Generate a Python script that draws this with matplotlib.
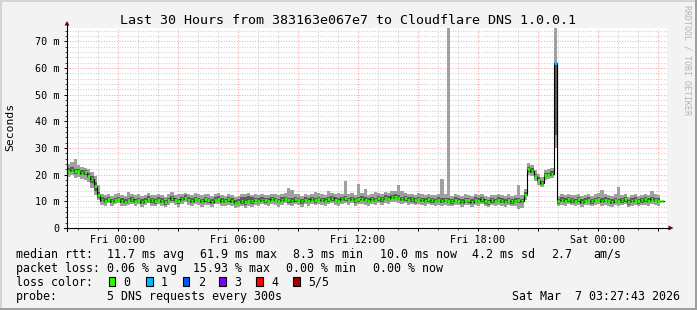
import numpy as np
import matplotlib
matplotlib.use("Agg")
import matplotlib.pyplot as plt
from matplotlib.lines import Line2D
from matplotlib.patches import Polygon, Rectangle

# ---------------- data ----------------
title = "Last 30 Hours from 383163e067e7 to Cloudflare DNS 1.0.0.1"
ylabel = "Seconds"
x_label_hours = [0, 6, 12, 18, 24]
x_tick_labels = ["Fri 00:00", "Fri 06:00", "Fri 12:00", "Fri 18:00", "Sat 00:00"]
y_ticks = [0, 10, 20, 30, 40, 50, 60, 70]
y_tick_labels = ["0", "10 m", "20 m", "30 m", "40 m", "50 m", "60 m", "70 m"]
start_hour = -2.5381      # Thu 21:27:43 relative to Fri 00:00
span_hours = 30.0
step_hours = 10.0 / 60.0  # one sample every 10 minutes
nan = float("nan")

median = [
    21.5, 21.8, 21.2, 21.4, 20.6, 20.9, 19.6, 18.2, 15.8, 12.2,
    10.6, 10.3, 10.9, 10.1, 10.5, 10.8, 10.2, 9.8, 10.4, 10.7,
    10.1, 10.5, 9.9, 10.2, 11.0, 10.4, 10.0, 10.6, 10.3, 9.7,
    10.5, 11.2, 10.4, 10.0, 10.8, 11.3, 10.6, 10.2, 10.9, 10.5,
    10.1, 10.7, 10.4, 9.9, 10.6, 11.0, 10.3, 10.1, 10.7, 10.2,
    9.4, 9.8, 10.1, 9.6, 10.3, 10.0, 10.5, 10.2, 10.6, 10.4,
    10.3, 10.8, 10.5, 10.1, 10.6, 10.9, 10.4, 10.2, 10.7, 10.5,
    10.0, 10.6, 10.3, 10.8, 10.4, 10.9, 10.5, 10.2, 10.7, 11.1,
    10.6, 10.3, 10.8, 11.2, 10.5, 10.9, 10.4, 10.7, 11.0, 10.6,
    10.3, 10.8, 10.5, 11.1, 10.7, 11.4, 11.0, 11.6, 11.8, 11.3,
    10.9, 11.2, 10.6, 10.8, 10.4, 10.9, 10.5, 10.2, 10.7, 10.4,
    10.1, 10.6, 10.3, 10.5, 10.2, 10.0, 10.6, 10.3, 9.8, 10.5,
    10.4, 9.9, 10.6, 10.2, 10.8, 10.0, 9.7, 10.4, 10.1, 10.6,
    10.3, 9.8, 10.5, 10.0, 10.2, 10.4, 10.1, 12.5, 22.0, 21.5,
    19.5, 18.0, 16.8, 19.8, 20.0, 20.4, 62.0, 10.0, 10.6, 10.2,
    10.8, 10.4, 10.1, 10.7, 9.8, 10.3, 10.6, 10.0, 10.5, 10.9,
    10.2, 10.6, 10.3, 9.9, 10.5, 10.1, 10.4, 10.8, 9.7, 10.2,
    10.6, 10.0, 10.4, 10.7, 10.3, 10.9, 10.5, 10.2, 10.0, nan,
]
smoke_outer_lo = [
    19.0, 19.8, 18.6, 19.2, 18.4, 18.0, 17.2, 15.0, 12.4, 10.6,
    8.8, 8.4, 9.3, 8.2, 8.9, 9.4, 8.3, 8.1, 8.6, 9.1,
    8.2, 9.0, 7.9, 8.5, 9.2, 8.4, 8.1, 8.9, 8.3, 7.8,
    8.7, 9.3, 8.5, 7.9, 9.0, 9.6, 8.7, 8.2, 9.1, 8.6,
    8.0, 8.8, 8.6, 7.7, 8.9, 9.1, 8.2, 8.3, 8.7, 8.1,
    7.5, 7.9, 8.2, 7.6, 8.4, 8.0, 8.8, 8.3, 8.9, 8.5,
    8.4, 9.1, 8.6, 8.0, 8.8, 9.2, 8.5, 8.1, 9.0, 8.7,
    7.9, 8.9, 8.3, 9.1, 8.5, 9.0, 8.8, 8.2, 8.9, 9.3,
    8.7, 8.4, 9.0, 9.3, 8.6, 9.2, 8.4, 8.9, 9.1, 8.8,
    8.3, 9.0, 8.6, 9.2, 8.8, 9.5, 9.1, 9.7, 9.9, 9.4,
    9.0, 9.3, 8.7, 9.0, 8.5, 9.1, 8.6, 8.3, 8.9, 8.5,
    8.2, 8.8, 8.4, 8.7, 8.3, 8.1, 8.7, 8.5, 7.9, 8.6,
    8.5, 8.0, 8.7, 8.4, 9.0, 8.1, 7.8, 8.6, 8.2, 8.8,
    8.4, 7.9, 8.7, 8.2, 8.3, 7.2, 7.4, 10.6, 19.9, 19.4,
    17.7, 16.3, 15.3, 18.1, 18.2, 18.7, 30.0, 8.3, 8.7, 8.4,
    8.9, 8.6, 8.2, 8.8, 7.9, 8.5, 8.7, 8.1, 8.6, 9.0,
    8.3, 8.8, 8.4, 8.0, 8.7, 8.2, 8.5, 9.0, 7.8, 8.4,
    8.7, 8.1, 8.6, 8.8, 8.4, 9.0, 8.6, 8.3, 8.2, nan,
]
smoke_inner_lo = [
    20.6, 21.0, 20.3, 20.5, 19.7, 19.9, 18.6, 16.9, 14.0, 11.3,
    9.8, 9.5, 10.1, 9.2, 9.7, 10.0, 9.4, 8.9, 9.6, 9.9,
    9.2, 9.8, 9.0, 9.3, 10.2, 9.5, 9.1, 9.8, 9.4, 8.8,
    9.7, 10.3, 9.6, 9.1, 10.0, 10.5, 9.7, 9.3, 10.1, 9.6,
    9.2, 9.9, 9.5, 8.9, 9.8, 10.1, 9.4, 9.2, 9.8, 9.3,
    8.6, 8.9, 9.0, 8.7, 9.2, 9.0, 9.6, 9.3, 9.8, 9.5,
    9.4, 10.0, 9.6, 9.2, 9.8, 10.1, 9.5, 9.3, 9.9, 9.6,
    9.1, 9.8, 9.4, 10.0, 9.5, 10.1, 9.7, 9.3, 9.9, 10.2,
    9.7, 9.4, 10.0, 10.3, 9.6, 10.1, 9.5, 9.8, 10.1, 9.7,
    9.4, 10.0, 9.6, 10.2, 9.8, 10.5, 10.1, 10.7, 10.9, 10.4,
    10.0, 10.3, 9.7, 9.9, 9.5, 10.0, 9.6, 9.3, 9.8, 9.5,
    9.2, 9.8, 9.4, 9.6, 9.3, 9.1, 9.7, 9.4, 8.9, 9.6,
    9.5, 9.0, 9.7, 9.3, 9.9, 9.1, 8.8, 9.5, 9.2, 9.7,
    9.4, 8.9, 9.6, 9.1, 9.3, 9.3, 9.2, 11.6, 21.0, 20.5,
    18.7, 17.2, 16.0, 19.0, 19.2, 19.5, 35.0, 9.1, 9.7, 9.3,
    9.9, 9.5, 9.2, 9.8, 8.9, 9.4, 9.7, 9.1, 9.6, 10.0,
    9.3, 9.7, 9.4, 9.0, 9.6, 9.2, 9.5, 9.9, 8.8, 9.3,
    9.7, 9.1, 9.5, 9.8, 9.4, 10.0, 9.6, 9.3, 9.1, nan,
]
smoke_inner_hi = [
    22.4, 22.9, 22.3, 22.2, 21.6, 21.8, 20.7, 19.4, 17.3, 13.6,
    11.5, 11.2, 11.8, 11.0, 11.4, 11.7, 11.1, 10.8, 11.3, 11.6,
    11.0, 11.4, 10.8, 11.1, 11.9, 11.3, 10.9, 11.5, 11.2, 10.6,
    11.4, 12.1, 11.3, 10.9, 11.7, 12.2, 11.5, 11.1, 11.8, 11.4,
    11.0, 11.6, 11.3, 10.8, 11.5, 11.9, 11.2, 11.0, 11.6, 11.1,
    10.4, 10.9, 11.8, 11.6, 12.0, 11.5, 11.4, 11.1, 11.5, 11.3,
    11.2, 11.7, 11.4, 11.0, 11.5, 11.8, 11.3, 11.1, 11.6, 11.4,
    10.9, 11.5, 11.2, 11.7, 11.3, 11.8, 11.4, 11.1, 11.6, 12.0,
    11.5, 11.2, 11.7, 12.1, 11.4, 11.8, 11.3, 11.6, 11.9, 11.5,
    11.2, 11.7, 11.4, 12.0, 11.6, 12.3, 11.9, 12.5, 12.7, 12.2,
    11.8, 12.1, 11.5, 11.7, 11.3, 11.8, 11.4, 11.1, 11.6, 11.3,
    11.0, 11.5, 11.2, 11.4, 11.1, 10.9, 11.5, 11.2, 10.7, 11.4,
    11.3, 10.8, 11.5, 11.1, 11.7, 10.9, 10.6, 11.3, 11.0, 11.5,
    11.2, 10.7, 11.4, 10.9, 11.1, 11.4, 11.0, 13.4, 23.0, 22.4,
    20.4, 19.0, 17.8, 20.6, 20.8, 21.2, 62.0, 10.9, 11.5, 11.1,
    11.7, 11.3, 11.0, 11.6, 10.7, 11.2, 11.5, 10.9, 11.4, 11.8,
    11.1, 11.5, 11.2, 10.8, 11.4, 11.0, 11.3, 11.7, 10.6, 11.1,
    11.5, 10.9, 11.3, 11.6, 11.2, 11.8, 11.4, 11.1, 10.9, nan,
]
smoke_outer_hi = [
    24.0, 24.6, 26.0, 23.5, 23.0, 22.6, 22.0, 21.0, 19.5, 16.0,
    12.6, 12.4, 12.9, 12.1, 12.6, 13.0, 12.3, 12.0, 13.6, 12.7,
    12.2, 12.8, 11.9, 12.5, 13.1, 12.4, 12.2, 12.9, 12.3, 11.8,
    12.6, 13.4, 12.5, 12.8, 12.9, 13.2, 12.7, 12.3, 13.0, 12.6,
    12.2, 12.8, 12.9, 12.0, 12.7, 13.0, 12.4, 12.1, 12.8, 12.3,
    11.6, 12.0, 12.9, 12.6, 13.2, 12.4, 12.6, 12.2, 12.7, 12.5,
    12.4, 12.9, 12.6, 12.2, 12.8, 13.0, 15.0, 14.4, 12.8, 12.6,
    12.1, 12.7, 12.4, 12.9, 13.5, 13.0, 12.6, 12.3, 14.0, 13.1,
    12.7, 13.2, 12.9, 17.6, 12.6, 13.0, 12.5, 16.6, 13.1, 14.8,
    12.4, 12.9, 13.5, 13.2, 12.8, 13.4, 13.0, 13.8, 14.0, 16.3,
    14.0, 13.3, 12.7, 12.9, 12.5, 13.0, 12.6, 12.3, 12.8, 12.5,
    12.2, 12.7, 18.4, 12.6, 80.0, 12.1, 12.7, 12.4, 11.9, 12.6,
    12.5, 12.0, 12.7, 12.3, 12.9, 12.1, 11.8, 12.5, 12.2, 12.7,
    12.4, 11.9, 12.6, 12.1, 12.3, 16.3, 12.4, 14.8, 24.2, 23.6,
    21.8, 20.4, 19.0, 21.8, 22.0, 22.6, 80.0, 12.1, 12.7, 12.3,
    12.9, 12.5, 12.2, 12.8, 11.9, 12.4, 12.7, 12.1, 12.6, 13.0,
    14.2, 12.7, 12.4, 12.0, 12.6, 15.2, 12.5, 12.9, 11.8, 12.3,
    12.7, 12.1, 12.5, 12.8, 12.4, 13.9, 12.6, 12.3, 12.1, nan,
]
loss_counts = {146: 1}   # sample index -> lost pings (all others 0)
loss_colors = ["#26ff00", "#00b8ff", "#0059ff", "#7e00ff", "#ff0000", "#a10000"]
loss_labels = ["0", "1", "2", "3", "4", "5/5"]

legend_rows = [
    [("median rtt:", 16), ("11.7 ms avg", 107), ("61.9 ms max", 200), ("8.3 ms min", 293),
     ("10.0 ms now", 380), ("4.2 ms sd", 472), ("2.7", 551), ("am/s", 593)],
    [("packet loss:", 16), ("0.06 % avg", 107), ("15.93 % max", 193), ("0.00 % min", 286),
     ("0.00 % now", 373)],
    [("loss color:", 16)],
    [("probe:", 16), ("5 DNS requests every 300s", 107)],
]
date_text = "Sat Mar  7 03:27:43 2026"
watermark = "RRDTOOL / TOBI OETIKER"

# ---------------- layout ----------------
W, H = 697, 310
plt.rcParams["font.family"] = ["DejaVu Sans Mono"]
fig = plt.figure(figsize=(W / 100, H / 100), dpi=100, facecolor="#f3f3f3")

def fx(px):
    return px / W

def fy(py):
    return 1 - py / H

L, R, T, B = 67, 667, 28, 228
ax = fig.add_axes([fx(L), fy(B), (R - L) / W, (B - T) / H])
ax.set_facecolor("white")
ax.set_xlim(start_hour, start_hour + span_hours)
ax.set_ylim(0, 75)
for s in ax.spines.values():
    s.set_visible(False)

# grid / ticks
major_x = np.arange(0, 28, 3)
ax.set_xticks(major_x)
ax.set_xticklabels([x_tick_labels[x_label_hours.index(h)] if h in x_label_hours else ""
                    for h in major_x])
ax.set_xticks(np.arange(-2, 28, 1), minor=True)
ax.set_yticks(y_ticks)
ax.set_yticklabels(y_tick_labels)
ax.set_yticks(np.arange(0, 76, 2), minor=True)
ax.grid(which="major", color="#ffa3a3", linestyle=(0, (1, 1.5)), linewidth=0.75)
ax.grid(which="minor", color="#cfcfcf", linestyle=(0, (1, 1.5)), linewidth=0.75)
ax.set_axisbelow(True)
ax.tick_params(which="major", direction="out", length=2.2, width=0.7, colors="#000000",
               labelsize=7.3, pad=2.6)
ax.tick_params(which="minor", direction="out", length=1.4, width=0.7, colors="#444444")
ax.tick_params(axis="y", which="major", pad=3.4)
for lab in ax.get_xticklabels() + ax.get_yticklabels():
    lab.set_color("#000000")

# smoke and median
n = len(median)
t = start_hour + np.arange(n) * step_hours
t_edges = start_hour + np.arange(n + 1) * step_hours

def ext(a):
    a = np.asarray(a, dtype=float)
    return np.append(a, a[-1])

ax.fill_between(t_edges, ext(smoke_outer_lo), ext(smoke_outer_hi), step="post",
                color="#a0a0a0", linewidth=0, zorder=2)
ax.fill_between(t_edges, ext(smoke_inner_lo), ext(smoke_inner_hi), step="post",
                color="#5c5c5c", linewidth=0, zorder=3)
ax.step(t_edges, ext(median), where="post", color="#000000", linewidth=0.8, zorder=4)
med = np.asarray(median, dtype=float)
ok = np.isfinite(med)
cols = [loss_colors[loss_counts.get(i, 0)] for i in range(n)]
ax.hlines(med[ok], t[ok] + step_hours * 0.12, t[ok] + step_hours * 0.88,
          colors=[c for c, k in zip(cols, ok) if k], linewidth=2.0, zorder=5)

# axis lines with arrows
arrow_col = "#800000"
fig.add_artist(Line2D([fx(64), fx(669)], [fy(228), fy(228)], color="black", linewidth=0.8))
fig.add_artist(Line2D([fx(67), fx(67)], [fy(231), fy(25)], color="black", linewidth=0.8))
fig.add_artist(Polygon([(fx(668.5), fy(225.5)), (fx(673.5), fy(228)), (fx(668.5), fy(230.5))],
                       closed=True, color=arrow_col, linewidth=0))
fig.add_artist(Polygon([(fx(64.5), fy(25.5)), (fx(67), fy(21)), (fx(69.5), fy(25.5))],
                       closed=True, color=arrow_col, linewidth=0))

# texts
fig.text(fx(347.5), fy(24), title, ha="center", va="baseline", fontsize=9.6, color="#000000")
fig.text(fx(10), fy(127), ylabel, ha="center", va="center", rotation=90, fontsize=8.2)
fig.text(fx(687), fy(60), watermark, ha="center", va="center", rotation=270,
         fontsize=6.0, color="#b4b4b4")

row_base = [257.7, 271.7, 285.7, 299.8]
for row, yb in zip(legend_rows, row_base):
    for txt, xp in row:
        fig.text(fx(xp), fy(yb), txt, ha="left", va="baseline", fontsize=8.4, color="#000000")
fig.text(fx(680.5), fy(row_base[3]), date_text, ha="right", va="baseline", fontsize=8.4)

box_x = [108.7, 146.0, 182.7, 219.3, 256.0, 293.3]
for bx, c, lab in zip(box_x, loss_colors, loss_labels):
    fig.add_artist(Rectangle((fx(bx), fy(286)), 6.7 / W, 8.7 / H, facecolor=c,
                             edgecolor="black", linewidth=0.8))
    fig.text(fx(bx + 15), fy(row_base[2]), lab, ha="left", va="baseline", fontsize=8.4)

# frame shading
fig.add_artist(Rectangle((0, fy(2)), 1, 2 / H, facecolor="#d4d4d4", edgecolor="none"))
fig.add_artist(Rectangle((0, 0), 2 / W, 1, facecolor="#d4d4d4", edgecolor="none"))
fig.add_artist(Rectangle((0, 0), 1, 2 / H, facecolor="#9e9e9e", edgecolor="none"))
fig.add_artist(Rectangle((fx(695), 0), 2 / W, 1, facecolor="#9e9e9e", edgecolor="none"))

fig.savefig("out.png", dpi=100, facecolor=fig.get_facecolor())
